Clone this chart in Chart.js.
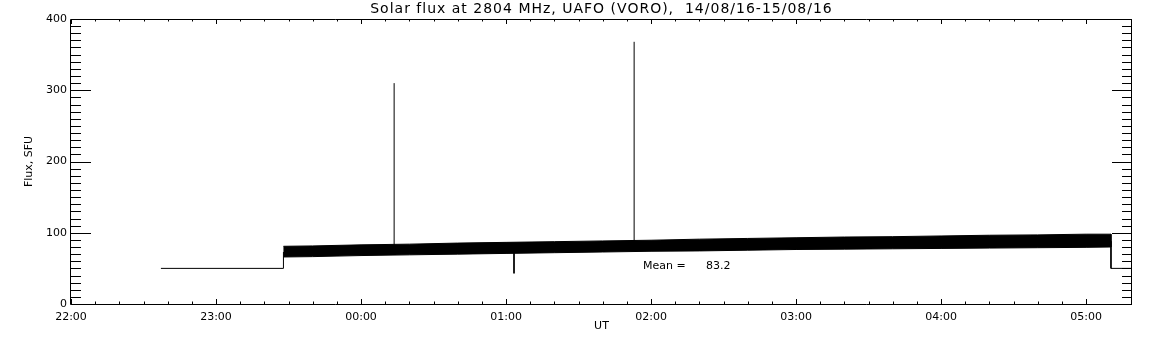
<!DOCTYPE html>
<html>
<head>
<meta charset="utf-8">
<script src="https://cdn.jsdelivr.net/npm/chart.js@4.4.1/dist/chart.umd.min.js"></script>
<style>
  html, body { margin: 0; padding: 0; background: #fff; }
  #c { display: block; }
</style>
</head>
<body>
<canvas id="c" width="1152" height="345"></canvas>
<script>
// ---- Data (time in minutes after 22:00 UT, flux in SFU) ----
const titleText = 'Solar flux at 2804 MHz, UAFO (VORO),  14/08/16-15/08/16';
const xTickLabels = ['22:00', '23:00', '00:00', '01:00', '02:00', '03:00', '04:00', '05:00'];
const yTickLabels = ['0', '100', '200', '300', '400'];

// flat level before the noisy record
const preTimes = [37.2, 87.9, 87.9];
const preFlux  = [50, 50, 73];

// envelope of the noisy band
const bandTimes = [87.9, 100, 120, 140, 160, 180, 200, 220, 240, 260, 280, 300, 320, 340, 360, 380, 400, 420, 430.3];
const bandUpper = [81, 81.5, 83, 84, 85.5, 86.5, 87.5, 88.5, 89.5, 91, 92, 93, 94, 94.5, 95.5, 96.5, 97, 98, 98];
const bandLower = [66, 66.5, 68, 69, 70, 71, 72, 73, 74, 74.5, 75.5, 76.5, 77, 77.5, 78, 78.5, 79, 79.5, 80];

// flat level after the record
const postTimes = [430.3, 430.3, 439];
const postFlux  = [88, 50, 50];

// isolated spikes / dips
const spikeTimes = [133.7, 183.3, 233.0];
const spikeBase  = [76, 79, 82];
const spikePeak  = [310, 43, 368];

const meanFlux = 83.2;
const meanLabelTime = 236.7;
const meanLabelFlux = 53;

// ---- build library data ----
const xy = (t, v) => t.map((x, i) => ({ x: x, y: v[i] }));
const bandShape = xy(bandTimes, bandUpper).concat(xy(bandTimes, bandLower).reverse());
const spikeData = [];
spikeTimes.forEach((t, i) => {
  spikeData.push({ x: t, y: spikeBase[i] }, { x: t, y: spikePeak[i] }, { x: t, y: null });
});

const FONT = 'DejaVu Sans';

const framePlugin = {
  id: 'frame',
  afterDatasetsDraw(chart) {
    const { ctx, chartArea: a, scales } = chart;
    const xs = scales.x, ys = scales.y;
    ctx.save();
    ctx.strokeStyle = '#000';
    ctx.lineWidth = 1;
    ctx.beginPath();
    ctx.rect(Math.round(a.left) - 0.5, Math.round(a.top) + 0.5, Math.round(a.right - a.left), Math.round(a.bottom - a.top));
    ctx.stroke();
    ctx.beginPath();
    xs.ticks.forEach(t => {
      const v = t.value;
      if (Math.abs(v - Math.round(v / 10) * 10) > 1e-6) return;
      const px = Math.round(xs.getPixelForValue(v)) + 0.5;
      const len = (Math.round(v) % 60 === 0) ? 5 : 2.5;
      ctx.moveTo(px, a.bottom); ctx.lineTo(px, a.bottom - len);
      ctx.moveTo(px, a.top); ctx.lineTo(px, a.top + len);
    });
    ys.ticks.forEach(t => {
      const v = t.value;
      if (Math.abs(v - Math.round(v / 10) * 10) > 1e-6) return;
      const py = Math.round(ys.getPixelForValue(v)) + 0.5;
      const len = (Math.round(v) % 100 === 0) ? 20 : 10;
      ctx.moveTo(a.left, py); ctx.lineTo(a.left + len, py);
      ctx.moveTo(a.right, py); ctx.lineTo(a.right - len, py);
    });
    ctx.stroke();
    ctx.fillStyle = '#000';
    // title
    ctx.font = '14px "' + FONT + '"';
    ctx.letterSpacing = '1px';
    ctx.textBaseline = 'middle';
    ctx.textAlign = 'center';
    ctx.fillText(titleText, (a.left + a.right) / 2, 9);
    ctx.letterSpacing = '0px';
    // mean label
    ctx.font = '11px "' + FONT + '"';
    ctx.textAlign = 'left';
    const mx = xs.getPixelForValue(meanLabelTime);
    const my = ys.getPixelForValue(meanLabelFlux);
    ctx.fillText('Mean =', mx, my);
    ctx.fillText(meanFlux.toFixed(1), mx + 63, my);
    ctx.restore();
  }
};

const line = (data, extra) => Object.assign({
  data: data, borderColor: '#000', backgroundColor: '#000', borderWidth: 1,
  pointRadius: 0, tension: 0, fill: false, spanGaps: false
}, extra || {});

new Chart(document.getElementById('c'), {
  type: 'line',
  data: {
    datasets: [
      line(bandShape, { fill: 'shape' }),
      line(xy(preTimes, preFlux)),
      line(xy(postTimes, postFlux)),
      line(spikeData)
    ]
  },
  options: {
    responsive: false,
    animation: false,
    devicePixelRatio: 1,
    layout: { padding: { left: 0, right: 20, top: 19, bottom: 0 } },
    plugins: {
      legend: { display: false },
      tooltip: { enabled: false },
      title: { display: false }
    },
    scales: {
      x: {
        type: 'linear', min: 0, max: 439,
        grid: { display: false, drawTicks: false },
        border: { display: false },
        afterFit: s => { s.height = 41; },
        ticks: {
          stepSize: 10, autoSkip: false, maxRotation: 0, padding: 7, color: '#000',
          font: { family: FONT, size: 11 },
          callback: v => (Math.round(v) % 60 === 0 && Math.abs(v - Math.round(v)) < 1e-6) ? (xTickLabels[Math.round(v) / 60] || '') : ''
        },
        title: { display: true, text: 'UT', color: '#000', font: { family: FONT, size: 11 }, padding: { top: 0, bottom: 12.4 } }
      },
      y: {
        type: 'linear', min: 0, max: 400,
        grid: { display: false, drawTicks: false },
        border: { display: false },
        afterFit: s => { s.width = 71; },
        ticks: {
          stepSize: 10, autoSkip: false, padding: 4, color: '#000',
          font: { family: FONT, size: 11 },
          callback: v => (Math.round(v) % 100 === 0) ? (yTickLabels[Math.round(v) / 100] || '') : ''
        },
        title: { display: true, text: 'Flux, SFU', color: '#000', font: { family: FONT, size: 11 }, padding: { top: 23, bottom: 0 } }
      }
    }
  },
  plugins: [framePlugin]
});
</script>
</body>
</html>
